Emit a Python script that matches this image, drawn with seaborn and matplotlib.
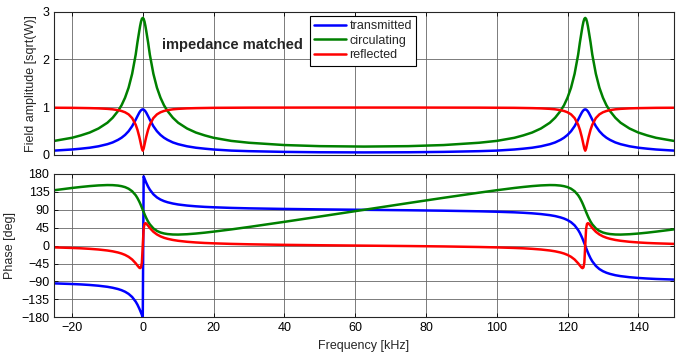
import pandas as pd
import matplotlib.pyplot as plt
import seaborn as sns

# frequency axis (kHz), dense around the two resonances at 0 and 125 kHz
freq_khz = [-25, -20, -17.5, -15, -12.5, -10, -8.5, -7, -6, -5, -4, -3, -2, -1.5, -1, -0.75, -0.5, -0.25,
            0,
            0.25, 0.5, 0.75, 1, 1.5, 2, 3, 4, 5, 6, 7, 8.5, 10, 12.5, 15, 17.5, 20, 25, 30, 40, 50,
            62.5,
            75, 85, 95, 100, 105, 107.5, 110, 112.5, 115, 116.5, 118, 119, 120, 121, 122, 123, 123.5,
            124, 124.25, 124.5, 124.75,
            125,
            125.25, 125.5, 125.75, 126, 126.5, 127, 128, 129, 130, 131, 132, 133.5, 135, 137.5, 140,
            142.5, 145, 150]

# field amplitudes [sqrt(W)]
amp_transmitted = [0.092, 0.115, 0.132, 0.152, 0.182, 0.226, 0.263, 0.316, 0.361, 0.420, 0.498, 0.603,
                   0.739, 0.813, 0.884, 0.913, 0.935, 0.950,
                   0.955,
                   0.950, 0.935, 0.913, 0.884, 0.813, 0.739, 0.603, 0.498, 0.420, 0.361, 0.316, 0.263,
                   0.226, 0.182, 0.152, 0.132, 0.115, 0.092, 0.080, 0.065, 0.057,
                   0.054,
                   0.057, 0.065, 0.080, 0.092, 0.115, 0.132, 0.152, 0.182, 0.226, 0.263, 0.316, 0.361,
                   0.420, 0.498, 0.603, 0.739, 0.813, 0.884, 0.913, 0.935, 0.950,
                   0.955,
                   0.950, 0.935, 0.913, 0.884, 0.813, 0.739, 0.603, 0.498, 0.420, 0.361, 0.316, 0.263,
                   0.226, 0.182, 0.152, 0.132, 0.115, 0.092]
amp_circulating = [0.295, 0.36, 0.41, 0.47, 0.555, 0.675, 0.78, 0.92, 1.04, 1.20, 1.41, 1.70,
                   2.10, 2.36, 2.59, 2.70, 2.79, 2.85,
                   2.87,
                   2.85, 2.79, 2.70, 2.59, 2.36, 2.10, 1.70, 1.41, 1.20, 1.04, 0.92, 0.78,
                   0.675, 0.555, 0.47, 0.41, 0.36, 0.295, 0.256, 0.208, 0.185,
                   0.176,
                   0.185, 0.208, 0.256, 0.295, 0.36, 0.41, 0.47, 0.555, 0.675, 0.78, 0.92, 1.04,
                   1.20, 1.41, 1.70, 2.10, 2.36, 2.59, 2.70, 2.79, 2.85,
                   2.87,
                   2.85, 2.79, 2.70, 2.59, 2.36, 2.10, 1.70, 1.41, 1.20, 1.04, 0.92, 0.78,
                   0.675, 0.555, 0.47, 0.41, 0.36, 0.295]
amp_reflected = [0.989, 0.987, 0.984, 0.981, 0.976, 0.966, 0.956, 0.939, 0.921, 0.894, 0.850, 0.773,
                 0.634, 0.527, 0.386, 0.305, 0.218, 0.135,
                 0.090,
                 0.135, 0.218, 0.305, 0.386, 0.527, 0.634, 0.773, 0.850, 0.894, 0.921, 0.939, 0.956,
                 0.966, 0.976, 0.981, 0.984, 0.987, 0.989, 0.991, 0.992, 0.993,
                 0.993,
                 0.993, 0.992, 0.991, 0.989, 0.987, 0.984, 0.981, 0.976, 0.966, 0.956, 0.939, 0.921,
                 0.894, 0.850, 0.773, 0.634, 0.527, 0.386, 0.305, 0.218, 0.135,
                 0.090,
                 0.135, 0.218, 0.305, 0.386, 0.527, 0.634, 0.773, 0.850, 0.894, 0.921, 0.939, 0.956,
                 0.966, 0.976, 0.981, 0.984, 0.987, 0.989]

# phases [deg]
phase_transmitted = [-94.8, -96.4, -97.4, -98.8, -100.7, -103.4, -105.8, -109.0, -111.9, -115.8, -121.2,
                     -129.0, -140.6, -148.3, -157.7, -162.9, -168.4, -174.1,
                     -180.0,
                     174.1, 168.4, 162.9, 157.7, 148.3, 140.6, 129.0, 121.2, 115.8, 111.9, 109.0, 105.8,
                     103.4, 100.7, 98.8, 97.4, 96.4, 94.8, 93.7, 92.2, 91.1,
                     90.0,
                     88.9, 87.8, 86.3, 85.2, 83.7, 82.6, 81.2, 79.3, 76.6, 74.3, 71.0, 68.1,
                     64.2, 58.8, 51.0, 39.4, 31.7, 22.3, 17.1, 11.6, 5.9,
                     0.0,
                     -5.9, -11.6, -17.1, -22.3, -31.7, -39.4, -51.0, -58.8, -64.2, -68.1, -71.0, -74.3,
                     -76.6, -79.3, -81.2, -82.6, -83.7, -85.2]
phase_circulating = [139.2, 144.9, 147.4, 149.6, 151.3, 152.2, 152.0, 150.9, 149.4, 147.0, 143.0, 136.7,
                     126.6, 119.5, 110.9, 106.1, 100.9, 95.5,
                     90.0,
                     84.5, 79.1, 74.0, 69.1, 60.5, 53.5, 43.3, 37.0, 33.0, 30.6, 29.1, 28.0,
                     27.8, 28.7, 30.4, 32.6, 35.2, 40.8, 46.9, 59.8, 73.1,
                     90.0,
                     106.9, 120.2, 133.1, 139.2, 144.9, 147.4, 149.6, 151.3, 152.2, 152.0, 150.9, 149.4,
                     147.0, 143.0, 136.7, 126.6, 119.5, 110.9, 106.1, 100.9, 95.5,
                     90.0,
                     84.5, 79.1, 74.0, 69.1, 60.5, 53.5, 43.3, 37.0, 33.0, 30.6, 29.1, 28.0,
                     27.8, 28.7, 30.4, 32.6, 35.2, 40.8]
phase_reflected = [-4.4, -5.8, -6.7, -8.0, -9.7, -12.2, -14.3, -17.2, -19.8, -23.3, -28.1, -34.8,
                   -44.3, -50.0, -55.3, -56.5, -54.6, -42.8,
                   0.0,
                   42.8, 54.6, 56.5, 55.3, 50.0, 44.3, 34.8, 28.1, 23.3, 19.8, 17.2, 14.3,
                   12.2, 9.7, 8.0, 6.7, 5.8, 4.4, 3.4, 2.0, 1.0,
                   0.0,
                   -1.0, -2.0, -3.4, -4.4, -5.8, -6.7, -8.0, -9.7, -12.2, -14.3, -17.2, -19.8,
                   -23.3, -28.1, -34.8, -44.3, -50.0, -55.3, -56.5, -54.6, -42.8,
                   0.0,
                   42.8, 54.6, 56.5, 55.3, 50.0, 44.3, 34.8, 28.1, 23.3, 19.8, 17.2, 14.3,
                   12.2, 9.7, 8.0, 6.7, 5.8, 4.4]

series_names = ['transmitted', 'circulating', 'reflected']
line_colors = {'transmitted': '#0000ff', 'circulating': '#008000', 'reflected': '#ff0000'}

amp_df = pd.DataFrame({'freq': freq_khz, 'transmitted': amp_transmitted,
                       'circulating': amp_circulating, 'reflected': amp_reflected})
amp_df = amp_df.melt(id_vars='freq', var_name='signal', value_name='value')
phase_df = pd.DataFrame({'freq': freq_khz, 'transmitted': phase_transmitted,
                         'circulating': phase_circulating, 'reflected': phase_reflected})
phase_df = phase_df.melt(id_vars='freq', var_name='signal', value_name='value')

sns.set_theme(style='ticks')
plt.rcParams['font.family'] = ['Liberation Sans', 'DejaVu Sans']

fig = plt.figure(figsize=(6.81, 3.52), dpi=100)
ax_amp = fig.add_axes([0.0797, 0.5597, 0.9096, 0.4071])
ax_ph = fig.add_axes([0.0797, 0.0986, 0.9096, 0.4071])

sns.lineplot(data=amp_df, x='freq', y='value', hue='signal', hue_order=series_names,
             palette=line_colors, estimator=None, linewidth=1.8, ax=ax_amp)
sns.lineplot(data=phase_df, x='freq', y='value', hue='signal', hue_order=series_names,
             palette=line_colors, estimator=None, linewidth=1.8, legend=False, ax=ax_ph)

for ax in (ax_amp, ax_ph):
    ax.set_xlim(-25, 150)
    ax.set_xticks(range(-20, 141, 20))
    ax.set_axisbelow(True)
    ax.grid(True, color='0.4', linewidth=0.6)
    ax.tick_params(direction='in', top=True, right=True, length=3, width=0.6,
                   labelsize=9, colors='black')
    for spine in ax.spines.values():
        spine.set_linewidth(0.8)
        spine.set_color('0.15')

ax_amp.set_ylim(0, 3)
ax_amp.set_yticks([0, 1, 2, 3])
ax_amp.tick_params(labelbottom=False)
ax_amp.set_xlabel('')
ax_amp.set_ylabel('Field amplitude [sqrt(W)]', fontsize=9)
ax_amp.text(5.5, 2.30, 'impedance matched', fontsize=10.5, fontweight='bold',
            va='center', ha='left')

handles, labels = ax_amp.get_legend_handles_labels()
leg = ax_amp.legend(handles, labels, loc='upper left', bbox_to_anchor=(0.413, 0.97),
                    fontsize=9, frameon=True, fancybox=False, edgecolor='black',
                    framealpha=1, handlelength=2.5, handletextpad=0.3, borderpad=0.35,
                    labelspacing=0.2, borderaxespad=0)
leg.get_frame().set_linewidth(0.8)

ax_ph.set_ylim(-180, 180)
ax_ph.set_yticks(range(-180, 181, 45))
ax_ph.set_ylabel('Phase [deg]', fontsize=9)
ax_ph.set_xlabel('Frequency [kHz]', fontsize=9)

fig.savefig('out.png', dpi=100)
